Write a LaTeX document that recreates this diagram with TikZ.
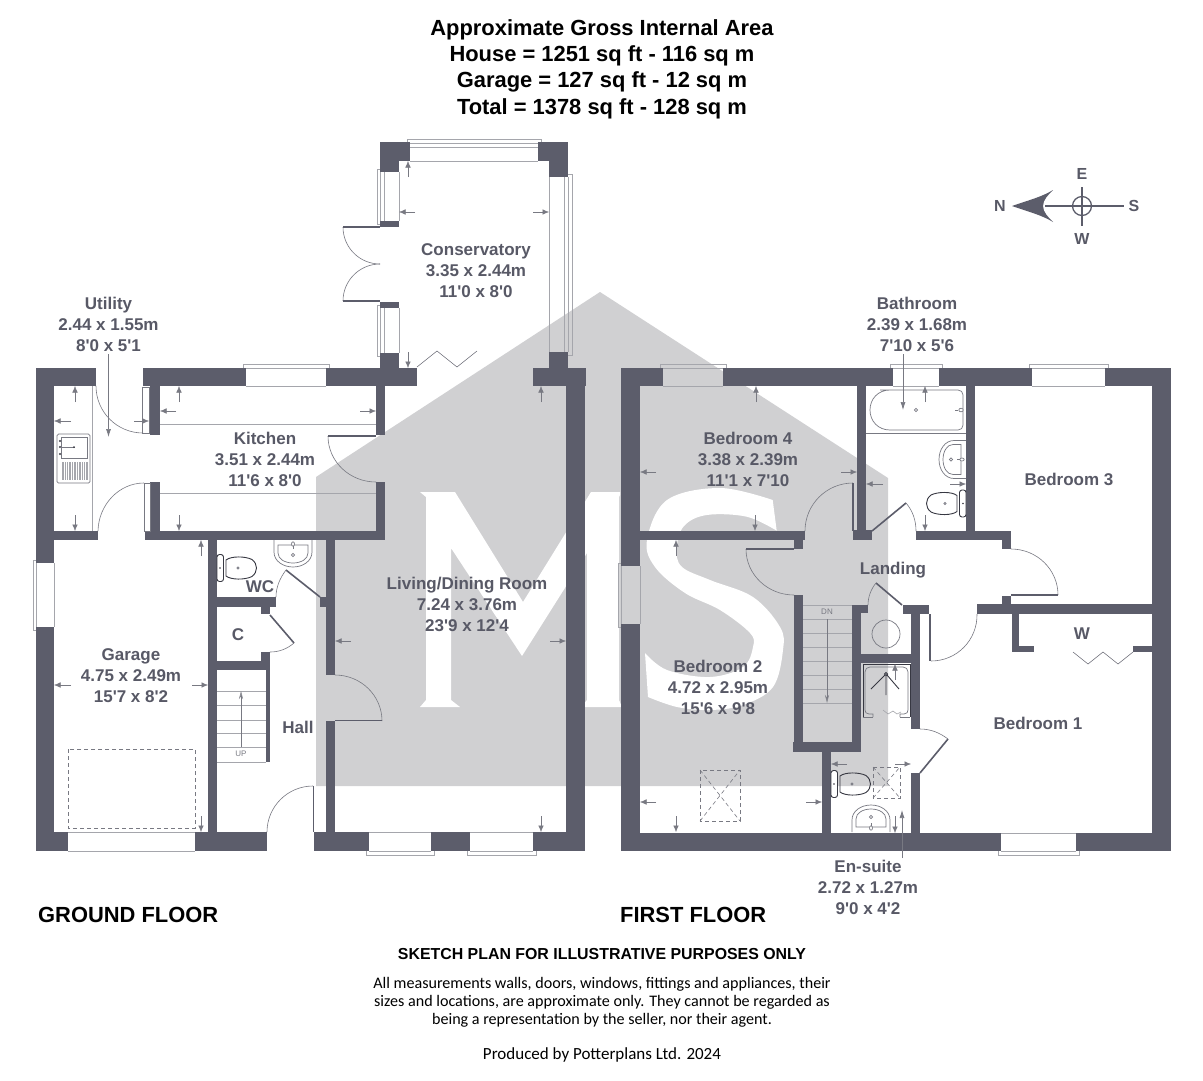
\documentclass[tikz,border=0pt]{standalone}
\usepackage{fontspec}
\usetikzlibrary{arrows.meta}
\newfontfamily\lsans{Liberation Sans}
\newfontfamily\cali{Carlito}
\definecolor{wallc}{RGB}{92,93,107}
\definecolor{txtc}{RGB}{88,89,102}
\definecolor{wmark}{RGB}{208,208,210}
\definecolor{linec}{RGB}{120,121,130}
\definecolor{lightc}{RGB}{165,166,172}
\definecolor{darkc}{RGB}{55,56,66}
\tikzset{
  wall/.style={fill=wallc,draw=none},
  room/.style={font=\lsans\bfseries\fontsize{17}{21}\selectfont,text=txtc,align=center,inner sep=0pt},
  titletxt/.style={font=\lsans\bfseries\fontsize{21.9}{26.4}\selectfont,text=black,align=center,inner sep=0pt},
  floortxt/.style={font=\lsans\bfseries\fontsize{21.9}{26}\selectfont,text=black,anchor=west,inner sep=0pt},
  noteb/.style={font=\lsans\bfseries\fontsize{15.9}{18}\selectfont,text=black,align=center,inner sep=0pt},
  note/.style={font=\cali\fontsize{16.1}{18.2}\selectfont,text=black,align=center,inner sep=0pt},
  notep/.style={font=\cali\fontsize{17}{20}\selectfont,text=black,align=center,inner sep=0pt},
  compasstxt/.style={font=\lsans\bfseries\fontsize{16}{18}\selectfont,text=txtc,inner sep=0pt},
  stairtxt/.style={font=\lsans\fontsize{8}{10}\selectfont,text=linec,inner sep=0pt},
  dimarrow/.style={draw=linec,line width=.5pt,-{Latex[length=6.5pt,width=5.5pt]},color=linec},
  leader/.style={draw=linec,line width=.7pt,-{Latex[length=8pt,width=5pt]}},
  doorarc/.style={draw=linec,line width=.6pt},
  leaf/.style={draw=wallc,line width=1.6pt},
  thinl/.style={draw=lightc,line width=.7pt},
  winl/.style={draw=lightc,line width=.7pt},
  fix/.style={draw=linec,line width=.7pt},
  fixd/.style={draw=darkc,line width=.9pt},
  dashl/.style={draw=linec,line width=.8pt,dash pattern=on 4pt off 3pt},
  stair/.style={draw=lightc,line width=.6pt},
}
\newcommand\qarc[6]{%
  \pgfmathsetmacro\cax{#1+.5523*(#5-#3)}\pgfmathsetmacro\cay{#2+.5523*(#6-#4)}%
  \pgfmathsetmacro\cbx{#5+.5523*(#1-#3)}\pgfmathsetmacro\cby{#6+.5523*(#2-#4)}%
  \draw[doorarc] (#1,#2) .. controls (\cax,\cay) and (\cbx,\cby) .. (#5,#6);}
% dimension arrow: tip x,y, tail x,y
\newcommand\dimar[4]{\draw[dimarrow] (#3,#4) -- (#1,#2);}
% horizontal window: x1,x2,y wall outer,y wall inner,y sill
\newcommand\hwin[5]{%
  \draw[winl] (#1,#3) -- (#2,#3) (#1,#4) -- (#2,#4);
  \draw[winl] (#1-3,#3) -- (#1-3,#5) -- (#2+3,#5) -- (#2+3,#3);}
\newcommand\vwin[5]{%
  \draw[winl] (#3,#1) -- (#3,#2) (#4,#1) -- (#4,#2);
  \draw[winl] (#3,#1-3) -- (#5,#1-3) -- (#5,#2+3) -- (#3,#2+3);}
% toilet, tank at origin side
\newcommand\toiletfix[3]{%
  \begin{scope}[shift={(#1,#2)},xscale=#3]
    \draw[fixd,fill=white,rounded corners=2.5pt] (0,-13.5) rectangle (6.5,13.5);
    \draw[fixd] (9,-8) .. controls (14,-12) and (28,-12) .. (35,-8.5) .. controls (41,-4) and (41,4) .. (35,8.5) .. controls (28,12) and (14,12) .. (9,8) -- cycle;
    \draw[fix] (21,0) circle (1.1);
    \fill[darkc] (3,0) circle (.8);
  \end{scope}}
% basin, opening on wall at origin
\newcommand\basinfix[3]{%
  \begin{scope}[shift={(#1,#2)},rotate=#3]
    \draw[fix] (-19,0) -- (-19,12) .. controls (-19,21) and (-10,27) .. (0,27) .. controls (10,27) and (19,21) .. (19,12) -- (19,0);
    \draw[fix] (-15,5) -- (-15,13) .. controls (-15,19) and (-8,23) .. (0,23) .. controls (8,23) and (15,19) .. (15,13) -- (15,5) -- cycle;
    \draw[fix] (0,15) circle (1.6);
    \draw[fix,fill=white] (0,4) ellipse (1.5 and 2.2);
    \draw[fix] (0,6) -- (0,9);
  \end{scope}}
\newcommand\skylight[4]{%
  \draw[dashl] (#1,#2) rectangle (#3,#4);
  \draw[dashl,line width=.6pt] (#1,#2) -- (#3,#4) (#1,#4) -- (#3,#2);}
\begin{document}
\begin{tikzpicture}[x=1pt,y=-1pt]
\useasboundingbox (0,0) rectangle (1203,1080);
\fill[white] (0,0) rectangle (1203,1080);

% ---------- watermark ----------
\fill[wmark] (316,477) -- (600,292) -- (888,478) -- (888,786) -- (316,786) -- cycle;
\fill[white] (420,492) -- (455,492) -- (523,602) -- (591,492) -- (620,492) -- (620,495) -- (619,497) -- (619,700) -- (622,707)
  -- (581,707) -- (587,700) -- (587,553) -- (522,656) -- (451,548) -- (451,700) -- (460,707) -- (420,707) -- (426,700) -- (426,497) -- cycle;
\fill[white] (772.7,500) -- (776.7,530.7)
  -- plot[smooth,tension=.6] coordinates {(776.7,530.7) (746.7,516.7) (706.7,515) (684,526) (676.7,548) (681.7,566.7) (710,580) (753,597) (780,627) (783,650) (773,687) (743,705) (710,710) (677,707) (648,697)}
  -- (645,653)
  -- plot[smooth,tension=.6] coordinates {(645,653) (667,670) (710,677) (743,667) (753,647) (750,633) (720,610) (685,593) (655,567) (647,540) (667,500) (720,488) (772.7,500)}
  -- cycle;

% ---------- windows ----------
\hwin{246}{326}{386}{368}{364}
\hwin{663}{723}{386}{368}{364}
\hwin{893}{939}{386}{368}{364}
\hwin{1032}{1105}{386}{368}{364}
\hwin{410}{538}{161}{143}{139}
\draw[winl] (410,147) -- (538,147);
\hwin{369}{431}{832}{851}{855}
\hwin{470}{533}{832}{851}{855}
\hwin{1001}{1076}{833}{851}{855}
\draw[winl] (68,832) -- (195,832) (68,851) -- (195,851);
\vwin{563}{627}{54}{36}{33}
\vwin{566}{624}{640}{621}{618}
\vwin{172}{221}{399}{380}{377}
\draw[winl] (384,172) -- (384,221);
\vwin{308}{353}{399}{380}{377}
\draw[winl] (384,308) -- (384,353);
\vwin{177}{352}{549}{568}{572}
\draw[winl] (564,177) -- (564,352);

% ---------- walls ----------
\foreach \a/\b/\c/\d in {
  36/368/96/386, 36/368/54/563, 36/627/54/851,
  143/368/246/386, 326/368/417/386,
  150/386/160/435, 150/482/160/540,
  376/386/385/435, 376/482/385/540,
  145/531/385/540, 54/531/98/540,
  208/540/217/851, 326/540/335/675, 326/721/335/851,
  320/597/326/607, 217/597/276/607, 261/607/270/614,
  261/652/270/670, 217/661/270/670, 266/670/270/762,
  36/832/68/851, 195/832/267/851, 314/832/369/851, 431/832/470/851, 533/832/585/851,
  533/368/586/386, 566/386/585/851,
  380/142/410/161, 380/161/399/172, 538/142/568/161, 549/161/568/177,
  380/221/399/227, 380/302/399/308, 380/353/399/368,
  549/352/568/368,
  621/368/663/386, 723/368/893/386, 939/368/1032/386, 1105/368/1171/386,
  621/368/640/566, 621/624/640/851, 1152/368/1171/851,
  640/531/805/540, 794/540/803/549, 794/595/803/752, 793/742/861/752, 852/605/861/752,
  852/605/868/613, 903/605/929/614, 911/614/920/729, 861/654/920/663,
  977/604/1152/614, 1002/596/1011/604, 916/531/1011/540, 1002/540/1011/549,
  966/386/975/531, 857/386/866/531, 853/530/872/540,
  1012/614/1019/652, 1012/646/1034/652, 1133/646/1152/652,
  822/752/831/833, 911/773/920/833,
  621/833/1001/851, 1076/833/1171/851}
  \fill[wall] (\a,\b) rectangle (\c,\d);

% ---------- doors ----------
\qarc{96}{386}{143}{386}{143}{433}
\draw[winl,draw=linec] (142,387) rectangle (149,433);
\qarc{98}{531}{143}{531}{144}{483}
\draw[winl,draw=linec] (144,483) rectangle (150,531);
\qarc{328}{436}{376}{436}{376}{482}
\draw[leaf,line width=1.1pt] (328,436) -- (376,436);
\qarc{335}{675}{335}{721}{382}{721}
\draw[leaf,line width=1.1pt] (335,720.5) -- (382,720.5);
\qarc{267}{832}{313}{832}{313}{786}
\draw[leaf,line width=1pt] (313,786) -- (313,832);
\draw[leaf] (320,597) -- (286,570);
\draw[doorarc] (286,570) .. controls (280,578) and (276,587) .. (276,597);
\draw[leaf] (270,615) -- (294,643);
\draw[doorarc] (294,643) .. controls (287,649) and (279,652) .. (270,652);
\qarc{343}{227}{380}{227}{380}{264}
\qarc{343}{301}{380}{301}{380}{264}
\draw[leaf,line width=1.1pt] (343,227) -- (380,227) (343,301) -- (380,301);
\draw[doorarc] (417,367) -- (437,351) -- (457,367) -- (477,351);
\qarc{746}{549}{794}{549}{794}{595}
\draw[leaf,line width=1.1pt] (746,549) -- (794,549);
\qarc{805}{531}{853}{531}{853}{483}
\draw[leaf,line width=1.1pt] (853,483) -- (853,531);
\draw[leaf] (872,531) -- (906,503);
\draw[doorarc] (906,503) .. controls (913,511) and (916,521) .. (916,531);
\draw[leaf] (902,605) -- (876,583);
\draw[doorarc] (876,583) .. controls (871,589) and (868,597) .. (868,605);
\qarc{977}{614}{930}{614}{931}{661}
\draw[leaf,line width=1.1pt] (930,614) -- (930,661);
\qarc{1011}{549}{1011}{595}{1058}{595}
\draw[leaf,line width=1.1pt] (1011,595) -- (1058,595);
\draw[leaf] (920,773) -- (948,739);
\draw[doorarc] (920,729) .. controls (931,729) and (940,733) .. (948,739);
\draw[doorarc] (1073,652) -- (1088,664) -- (1103,652) -- (1118,664) -- (1133,652);

% ---------- counters, stairs ----------
\draw[thinl] (92,386) -- (92,531);
\draw[thinl] (160,424) -- (376,424) (160,493) -- (376,493);
\foreach \y in {691,705,720,733,747,762} \draw[stair] (217,\y) -- (266,\y);
\draw[stair,draw=linec,-{Stealth[open,length=8pt,width=4pt]}] (241,747) -- (241,691);
\foreach \y in {605,619,633,647,661,675,689,703} \draw[stair] (803,\y) -- (852,\y);
\draw[stair,draw=linec,-{Stealth[open,length=8pt,width=4pt]}] (827,619) -- (827,703);
\node[stairtxt] (upl) at (241,754) {UP};
\node[stairtxt] (dnl) at (827,612) {DN};

% ---------- garage door ----------
\draw[dashl] (68,749) rectangle (195,828);

% ---------- sink ----------
\draw[fix,rounded corners=1.5pt] (57,434) rectangle (90,483);
\draw[fix] (61,437) rectangle (87,458);
\foreach \y in {441,447,454} \fill[darkc] (60,\y) circle (1.2);
\draw[fix] (60,447) -- (75,447);
\fill[darkc] (74,447) circle (1);
\foreach \i in {0,...,15} \draw[fix,draw=lightc,line width=.6pt] (62+\i*1.7,462) -- (62+\i*1.7,480);

% ---------- bathroom fittings ----------
\toiletfix{217}{568}{1}
\toiletfix{966}{503.5}{-1}
\toiletfix{831}{784}{1}
\basinfix{293}{540}{0}
\basinfix{966}{459.5}{-90}
\basinfix{871}{832}{180}
\draw[fix] (880,390) -- (958,390) .. controls (961,390) and (963,392) .. (963,395) -- (963,425) .. controls (963,428) and (961,430) .. (958,430) -- (890,430) .. controls (878,430) and (870,421) .. (870,410) .. controls (870,399) and (878,390) .. (890,390) -- cycle;
\draw[fix,line width=.5pt] (866,433) -- (966,433);
\draw[fix] (916,410) circle (1.6);
\draw[fix,fill=white] (961,410) ellipse (2.2 and 1.8);
\draw[fix] (955,410) -- (958,410);
% shower
\draw[fixd,line width=.9pt] (863,717) -- (863,664) -- (910,664) -- (910,717);
\draw[fix] (873,717) -- (873,714) -- (869,714) .. controls (866,714) and (865,712) .. (865,710) -- (865,672) .. controls (865,669) and (867,667) .. (870,667) -- (903,667) .. controls (906,667) and (908,669) .. (908,672) -- (908,710) .. controls (908,712) and (907,714) .. (904,714) -- (900,714) -- (900,717);
\draw[fix] (863,717) -- (873,717) (900,717) -- (910,717);
\draw[doorarc,draw=lightc] (883,710) -- (888,714) -- (893,711) -- (897,714) -- (901,712);
\draw[fixd] (886,674) circle (1.6);
\draw[fixd] (885,675) -- (871,689) (887,675) -- (899,689) (886,676) -- (886,695);
% closet circle
\draw[fix] (886,634) circle (14);
% skylights
\skylight{700}{770}{740}{821}
\skylight{873}{767}{900}{798}

% ---------- dimension arrows ----------
\dimar{75}{386}{75}{402} \dimar{54}{421}{71}{421} \dimar{149}{421}{134}{421} \dimar{75}{531}{75}{515}
\dimar{179}{386}{179}{402} \dimar{179}{531}{179}{515} \dimar{160}{411}{176}{411} \dimar{376}{411}{360}{411}
\dimar{201}{540}{201}{556} \dimar{201}{832}{201}{816} \dimar{54}{685}{71}{685} \dimar{208}{685}{192}{685}
\dimar{541}{386}{541}{402} \dimar{335}{641}{351}{641} \dimar{566}{641}{550}{641} \dimar{541}{832}{541}{816}
\dimar{408}{161}{408}{177} \dimar{399}{212}{415}{212} \dimar{549}{212}{533}{212} \dimar{408}{368}{408}{352}
\dimar{756}{386}{756}{402} \dimar{640}{472}{656}{472} \dimar{857}{472}{841}{472} \dimar{755}{531}{755}{515}
\dimar{676}{540}{676}{556} \dimar{640}{802}{656}{802} \dimar{822}{802}{806}{802} \dimar{676}{832}{676}{816}
\dimar{925}{386}{925}{402} \dimar{866}{484}{883}{484} \dimar{966}{484}{950}{484} \dimar{925}{531}{925}{515}
\dimar{895}{664}{895}{680} \dimar{831}{764}{847}{764} \dimar{911}{764}{895}{764} \dimar{895}{833}{895}{816}
\draw[leader] (108.5,354) -- (108.5,437);
\draw[leader] (903,354) -- (903,410);
\draw[leader] (902,858) -- (902,810);

% ---------- compass ----------
\draw[wallc,line width=1.3pt] (1045,206) -- (1124,206) (1082,187) -- (1082,226);
\draw[wallc,line width=1.3pt] (1082,206) circle (9.5);
\fill[wallc] (1012,206) .. controls (1026,201) and (1042,197) .. (1053,190) .. controls (1048,195) and (1043,200) .. (1043,206) .. controls (1043,212) and (1048,217) .. (1053,222) .. controls (1042,215) and (1026,211) .. (1012,206) -- cycle;
\node[compasstxt] (cn) at (1000,206) {N};
\node[compasstxt] (ce) at (1082,174) {E};
\node[compasstxt] (cs) at (1134,206) {S};
\node[compasstxt] (cw) at (1082,239) {W};

% ---------- text ----------
\node[titletxt] (title) at (602,69) {Approximate Gross Internal Area\\House = 1251 sq ft - 116 sq m\\Garage = 127 sq ft - 12 sq m\\Total = 1378 sq ft - 128 sq m};
\node[room] (cons) at (476,271) {Conservatory\\3.35 x 2.44m\\11'0 x 8'0};
\node[room] (util) at (108.5,324) {Utility\\2.44 x 1.55m\\8'0 x 5'1};
\node[room] (kit) at (265,459) {Kitchen\\3.51 x 2.44m\\11'6 x 8'0};
\node[room] (gar) at (131,676) {Garage\\4.75 x 2.49m\\15'7 x 8'2};
\node[room] (cup) at (238,635) {C};
\node[room] (wc) at (260,587) {WC};
\node[room] (hall) at (298,727) {Hall};
\node[room] (liv) at (467,604) {Living/Dining Room\\7.24 x 3.76m\\23'9 x 12'4};
\node[room] (bath) at (917,324) {Bathroom\\2.39 x 1.68m\\7'10 x 5'6};
\node[room] (bed4) at (748,459) {Bedroom 4\\3.38 x 2.39m\\11'1 x 7'10};
\node[room] (bed3) at (1069,479) {Bedroom 3};
\node[room] (land) at (893,570) {Landing};
\node[room] (bed2) at (718,687) {Bedroom 2\\4.72 x 2.95m\\15'6 x 9'8};
\node[room] (bed1) at (1038,723) {Bedroom 1};
\node[room] (wrd) at (1082,634) {W};
\node[room] (ens) at (868,887) {En-suite\\2.72 x 1.27m\\9'0 x 4'2};
\node[floortxt] (gf) at (38,915) {GROUND FLOOR};
\node[floortxt] (ff) at (620,915) {FIRST FLOOR};
\node[noteb] (sk) at (602,954) {SKETCH PLAN FOR ILLUSTRATIVE PURPOSES ONLY};
\node[note] (nt) at (602,1002) {All measurements walls, doors, windows, fittings and appliances, their\\sizes and locations, are approximate only. They cannot be regarded as\\being a representation by the seller, nor their agent.};
\node[notep] (pr) at (602,1055) {Produced by Potterplans Ltd. 2024};
\end{tikzpicture}
\end{document}
